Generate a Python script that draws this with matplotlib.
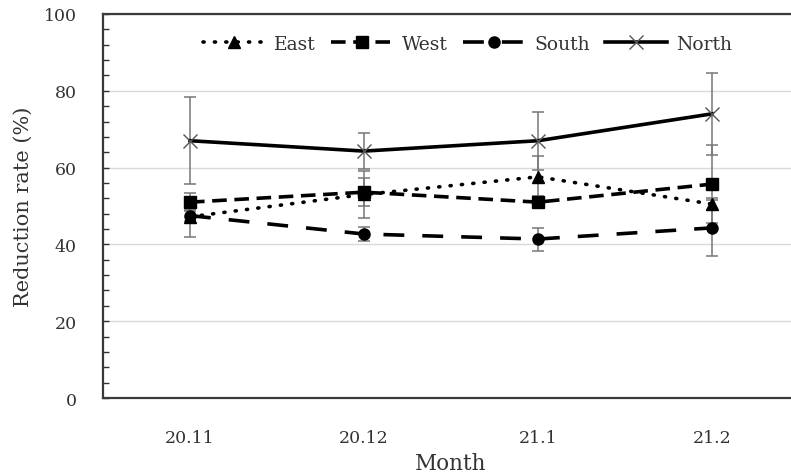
import matplotlib
matplotlib.use("Agg")
import matplotlib.pyplot as plt
from matplotlib.ticker import MultipleLocator

plt.rcParams['font.family'] = ['DejaVu Serif']
plt.rcParams['lines.scale_dashes'] = False

months = ["20.11", "20.12", "21.1", "21.2"]

east = [47.2, 53.0, 57.6, 50.5]
east_err = [5.2, 6.0, 5.4, 1.5]
west = [51.0, 53.6, 51.0, 55.7]
west_err = [2.4, 3.6, 1.5, 10.2]
south = [47.5, 42.7, 41.4, 44.3]
south_err = [1.5, 1.8, 3.0, 7.3]
north = [67.0, 64.3, 67.0, 74.0]
north_err = [11.4, 4.7, 7.5, 10.7]

fig = plt.figure(figsize=(7.91, 4.77), dpi=100)
ax = fig.add_axes([103 / 791, 1 - 399 / 477, 696 / 791, 384 / 477])

x = list(range(len(months)))
err_kw = dict(ecolor="#777777", elinewidth=1.1, capsize=4.5, capthick=1.1)

series = [
    ("East", east, east_err, dict(linestyle=(0, (0.8, 7.4)), marker="^", markersize=8,
                                  dash_capstyle="round")),
    ("West", west, west_err, dict(linestyle=(0, (10.5, 5.5)), marker="s", markersize=8.5)),
    ("South", south, south_err, dict(linestyle=(0, (15, 13)), marker="o", markersize=8)),
    ("North", north, north_err, dict(linestyle="-", marker="x", markersize=10,
                                     markeredgewidth=1.0, markeredgecolor="#555555")),
]

handles = []
for name, vals, errs, style in series:
    ax.errorbar(x, vals, yerr=errs, fmt="none", zorder=2, **err_kw)
    (ln,) = ax.plot(x, vals, color="black", linewidth=2.6, label=name, zorder=3, **style)
    handles.append(ln)

ax.set_xlim(-0.5, 3.5)
ax.set_ylim(0, 100)
ax.set_xticks(x)
ax.set_xticklabels(months)
ax.yaxis.set_major_locator(MultipleLocator(20))
ax.yaxis.set_minor_locator(MultipleLocator(4))
ax.tick_params(axis="x", length=0, pad=22, labelsize=12.5, labelcolor="#333333")
ax.tick_params(axis="y", which="major", direction="in", length=4, width=1, pad=19,
               labelsize=12.5, colors="#333333", labelcolor="#333333")
ax.tick_params(axis="y", which="minor", direction="in", length=4, width=1, colors="#333333")

ax.grid(axis="y", color="#d9d9d9", linewidth=1)
ax.set_axisbelow(True)
for side in ("left", "bottom", "top"):
    ax.spines[side].set_color("#3a3a3a")
    ax.spines[side].set_linewidth(1.6)
ax.spines["right"].set_visible(False)

ax.set_xlabel("Month", fontsize=15.5, labelpad=5, color="#333333")
ax.set_ylabel("Reduction rate (%)", fontsize=15, labelpad=8, color="#333333")

ax.legend(handles=handles, loc="center", bbox_to_anchor=(0.524, 0.922), ncol=4,
          frameon=False, fontsize=13.5, handlelength=3.3, handletextpad=0.5,
          columnspacing=0.8, labelcolor="#333333")

fig.savefig("out.png", dpi=100)
